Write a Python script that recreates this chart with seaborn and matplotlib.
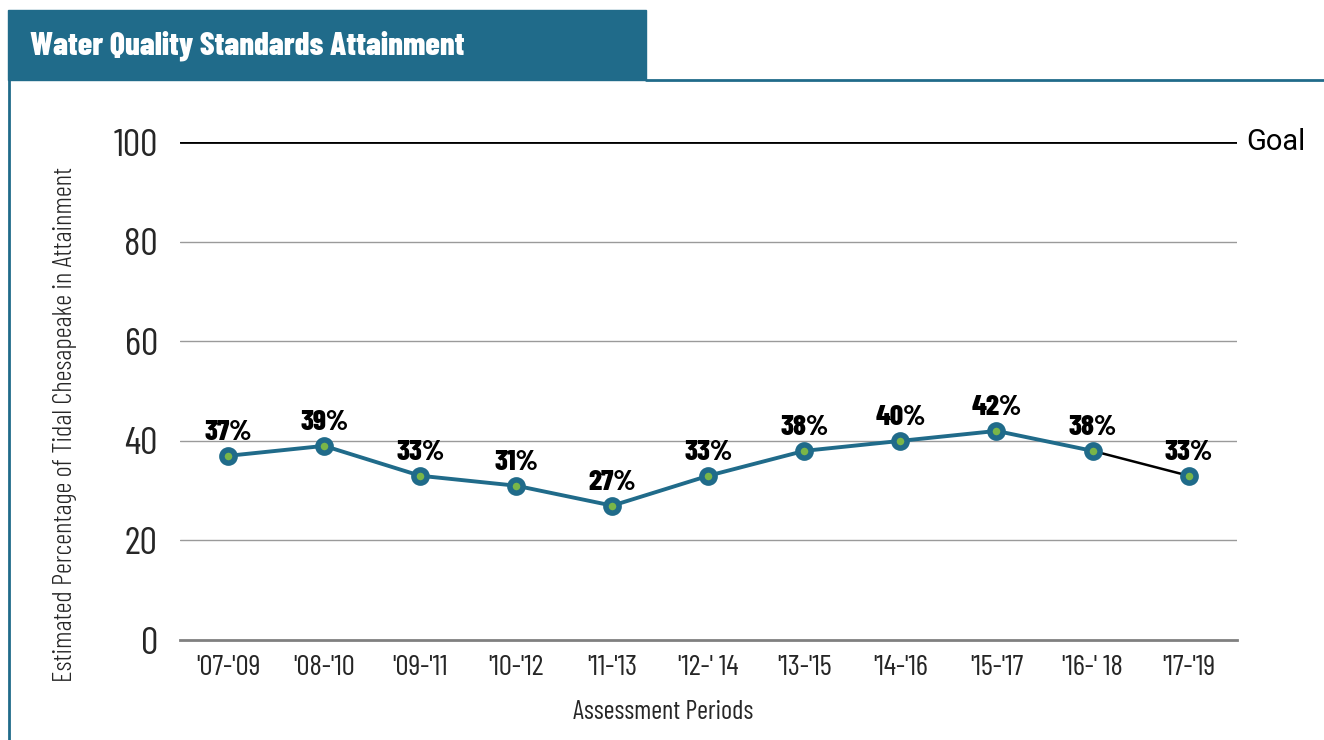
import matplotlib
matplotlib.use("Agg")
import matplotlib.pyplot as plt
import seaborn as sns
import pandas as pd
from matplotlib.patches import Rectangle
from matplotlib.lines import Line2D

periods = ["'07-'09", "'08-'10", "'09-'11", "'10-'12", "'11-'13", "'12-' 14",
           "'13-'15", "'14-'16", "'15-'17", "'16-' 18", "'17-'19"]
attainment = [37, 39, 33, 31, 27, 33, 38, 40, 42, 38, 33]
goal = 100

TEAL = '#206b8a'
GREEN = '#7ab648'
COND = ['Barlow Condensed', 'DejaVu Sans']

sns.set_theme(style='white')
plt.rcParams['font.family'] = COND
plt.rcParams['text.color'] = 'black'

df = pd.DataFrame({'period': periods, 'value': attainment})
df['x'] = range(len(df))

fig = plt.figure(figsize=(13.24, 7.4), dpi=100)
ax = fig.add_axes([0.136, 0.135, 0.798, 0.673])

# header band and frame
fig.patches.append(Rectangle((8 / 1324, 1 - 80 / 740), (646 - 8) / 1324, 70 / 740,
                             transform=fig.transFigure, color=TEAL, zorder=0))
fig.lines.append(Line2D([646 / 1324, 1], [1 - 80 / 740] * 2, transform=fig.transFigure,
                        color=TEAL, linewidth=2))
fig.lines.append(Line2D([9 / 1324] * 2, [0, 1 - 80 / 740], transform=fig.transFigure,
                        color=TEAL, linewidth=2))
fig.text(30 / 1324, 1 - 46 / 740, 'Water Quality Standards Attainment', color='white',
         fontsize=23.5, fontweight=800, va='center', ha='left')

for yv in [20, 40, 60, 80]:
    ax.axhline(yv, color='#9a9a9a', linewidth=1, zorder=1)
ax.axhline(goal, color='black', linewidth=2, zorder=1)
ax.text(10.6, goal, 'Goal', fontsize=21, va='center', ha='left', clip_on=False,
        family='Roboto')

main = df.iloc[:-1]
sns.lineplot(data=main, x='x', y='value', color=TEAL, linewidth=2.8, ax=ax, zorder=3)
sns.lineplot(data=df.iloc[-2:], x='x', y='value', color='black', linewidth=1.8, ax=ax, zorder=2)
sns.scatterplot(data=df, x='x', y='value', s=90, color=GREEN, edgecolor=TEAL,
                linewidth=4, ax=ax, zorder=4)

for xi, v in zip(df['x'], df['value']):
    ax.text(xi, v + 3.2, f'{v}%', ha='center', va='baseline', fontsize=21,
            fontweight=800)

ax.set_xlim(-0.5, 10.5)
ax.set_ylim(0, 100)
ax.set_xticks(df['x'])
ax.set_xticklabels(periods, fontsize=21)
ax.set_yticks([0, 20, 40, 60, 80, 100])
ax.set_yticklabels(['0', '20', '40', '60', '80', '100'], fontsize=28)
ax.tick_params(axis='x', direction='in', length=8, width=1, color='black', pad=11)
ax.tick_params(axis='y', length=0, pad=16)
ax.set_xlabel('Assessment Periods', fontsize=19)
ax.xaxis.set_label_coords(0.457, -0.12)
ax.set_ylabel('Estimated Percentage of Tidal Chesapeake in Attainment', fontsize=19.5,
              fontweight=300)
ax.yaxis.set_label_coords(-0.098, 0.434)

for s in ['top', 'right', 'left']:
    ax.spines[s].set_visible(False)
ax.spines['bottom'].set_color('#808080')
ax.spines['bottom'].set_linewidth(2)

fig.savefig('out.png', dpi=100)
